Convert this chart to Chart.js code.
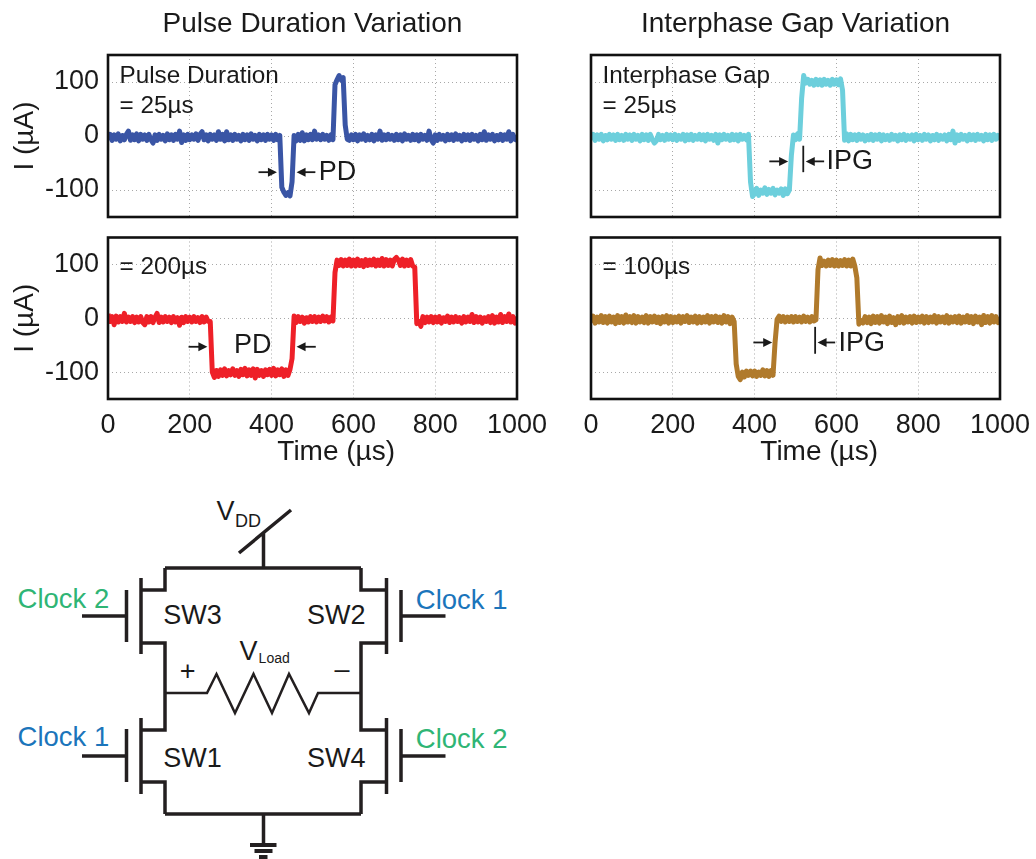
<!DOCTYPE html>
<html>
<head>
<meta charset="utf-8">
<title>Pulse Duration and Interphase Gap Variation</title>
<script src="https://cdn.jsdelivr.net/npm/chart.js@4"></script>
<style>
  html, body { margin: 0; padding: 0; background: #fff; }
  body { width: 1036px; height: 859px; position: relative; overflow: hidden; }
  canvas { position: absolute; }
  svg { position: absolute; left: 0; top: 0; }
  svg text { font-family: "Liberation Sans", Arial, sans-serif; fill: #1a1a1a; }
  svg .wire { fill: none; stroke: #231f20; stroke-width: 3.5; }
  svg .thin { fill: none; stroke: #231f20; stroke-width: 2.5; }
</style>
</head>
<body>
<svg width="1036" height="859" viewBox="0 0 1036 859">
  <!-- supply, rails -->
  <path class="wire" d="M239 553 L291 510 M263.5 533 V568 M165 568 H361 M165 814 H361 M263.5 814 V845"/>
  <!-- left leg -->
  <path class="wire" d="M165 568 V590 H141 M141 578 V654 M141 643 H165 V730 H141 M141 718 V794 M141 782 H165 V814"/>
  <!-- right leg -->
  <path class="wire" d="M361 568 V590 H386.5 M386.5 578 V654 M386.5 643 H361 V730 H386.5 M386.5 718 V794 M386.5 782 H361 V814"/>
  <!-- gates -->
  <path class="wire" d="M126.5 590 V642 M82 616 H126.5 M126.5 729 V782 M82 756 H126.5"/>
  <path class="wire" d="M401 590 V642 M401 616 H445.5 M401 729 V782 M401 756 H445.5"/>
  <!-- load -->
  <path class="thin" d="M165 693 H207 L216.5 674 L235 713 L253.5 674 L272 713 L289 674 L309 713 L318 693 H361"/>
  <!-- ground -->
  <path class="wire" style="stroke-width:4" d="M250 845 H276.5 M254.5 851 H272.5 M259 857 H267.5"/>
  <text x="216.4" y="520" font-size="27">V</text>
  <text x="235" y="526.7" font-size="18">DD</text>
  <text x="239.4" y="660" font-size="27">V</text>
  <text x="258.6" y="663.3" font-size="14">Load</text>
  <text x="187.6" y="680" font-size="27" text-anchor="middle">+</text>
  <text x="342" y="677.5" font-size="27" text-anchor="middle">–</text>
  <text x="163.3" y="624" font-size="27">SW3</text>
  <text x="307" y="624" font-size="27">SW2</text>
  <text x="163.3" y="767.3" font-size="27">SW1</text>
  <text x="307" y="767.3" font-size="27">SW4</text>
  <text x="17.6" y="608.3" font-size="27.5" style="fill:#2fb575">Clock 2</text>
  <text x="415.8" y="609.3" font-size="27.5" style="fill:#1b75bb">Clock 1</text>
  <text x="17.6" y="746" font-size="27.5" style="fill:#1b75bb">Clock 1</text>
  <text x="415.8" y="748" font-size="27.5" style="fill:#2fb575">Clock 2</text>
</svg>
<canvas id="pdShort"></canvas>
<canvas id="ipgShort"></canvas>
<canvas id="pdLong"></canvas>
<canvas id="ipgLong"></canvas>
<script>
var timeTicks = [0, 200, 400, 600, 800, 1000];
var currentTicks = [-100, 0, 100];

// scope sample times (us), shared by all four traces
var sampleTime = [
  0,5,10,15,20,25,30,35,40,45,50,55,60,65,70,75,80,85,90,95,
  100,105,110,115,120,125,130,135,140,145,150,155,160,165,170,175,180,185,190,195,
  200,205,210,215,220,225,230,235,240,245,250,255,260,265,270,275,280,285,290,295,
  300,305,310,315,320,325,330,335,340,345,350,355,360,365,370,375,380,385,390,395,
  400,405,410,415,420,425,430,435,440,445,450,455,460,465,470,475,480,485,490,495,
  500,505,510,515,520,525,530,535,540,545,550,555,560,565,570,575,580,585,590,595,
  600,605,610,615,620,625,630,635,640,645,650,655,660,665,670,675,680,685,690,695,
  700,705,710,715,720,725,730,735,740,745,750,755,760,765,770,775,780,785,790,795,
  800,805,810,815,820,825,830,835,840,845,850,855,860,865,870,875,880,885,890,895,
  900,905,910,915,920,925,930,935,940,945,950,955,960,965,970,975,980,985,990,995,
  1000];

// pulse duration = 25us (blue)
var pdShortCurrent = [
  -7,3,-8,2,-6,4,-9,1,-7,3,9,-8,2,-7,4,-9,3,-6,2,-8,
  3,-7,-13,2,-8,3,-6,1,-9,4,-7,2,-8,3,-6,9,-12,2,-8,3,
  -7,2,-6,4,-8,3,8,-7,2,-9,3,-6,2,-8,8,-6,3,-9,8,-7,
  2,-8,3,-6,1,-9,3,-7,2,-8,4,-6,1,-9,3,-7,2,-8,3,-6,
  2,-8,3,-7,1,-95,-104,-110,-105,-111,-85,1,-9,3,-8,6,-9,2,-7,3,
  -7,9,-6,2,-7,3,-6,1,-8,2,-7,95,104,112,104,108,20,-6,-8,2,
  -7,3,-9,2,-6,4,-8,1,-7,3,-9,2,-6,9,-8,2,-7,3,-6,1,
  -8,3,-7,2,-9,4,-6,1,-8,3,-7,2,-9,3,-6,1,-8,9,-7,-13,
  2,-8,3,-6,1,-9,3,-7,2,-8,4,-6,1,-9,3,-7,2,-8,3,-6,
  1,-9,3,-7,8,-8,2,-6,3,-9,1,-7,3,-8,2,-6,8,-9,3,-6,
  -8];

// interphase gap = 25us (cyan)
var ipgShortCurrent = [
  -7,3,-8,2,-6,3,-9,1,-7,3,-6,2,-8,3,-7,1,-8,3,-6,2,
  -8,3,-6,1,-9,3,-7,2,-8,3,-6,-13,-9,3,-7,1,-8,3,-6,2,
  -7,3,-8,1,-6,3,-9,2,-7,3,-8,1,-6,3,-7,2,-9,3,-6,1,
  -8,3,-13,2,-7,3,-6,1,-8,3,-7,2,-9,3,-6,1,-7,3,-85,-112,
  -107,-97,-110,-100,-106,-96,-108,-99,-106,-97,-109,-100,-106,-98,-110,-98,-107,-100,-35,2,
  -7,4,-6,70,112,98,105,96,103,94,105,95,104,94,105,96,103,94,105,96,
  104,95,106,85,-8,4,-9,3,-7,2,-8,3,-6,2,-9,1,-7,3,-8,2,
  -6,3,-9,2,-7,1,-8,3,-6,1,-9,2,-7,3,-8,1,-6,2,-9,3,
  -7,1,-8,3,-6,2,-9,1,-7,3,-8,1,-6,2,-9,3,-7,9,-13,2,
  -8,3,-6,1,-9,3,-7,2,-8,3,-6,1,-9,3,-7,2,-8,3,-6,1,
  -7];

// pulse duration = 200us (red)
var pdLongCurrent = [
  8,-6,3,-12,4,-7,3,-6,9,-7,2,-6,3,-8,2,-7,3,-8,-12,3,
  -7,3,-8,2,9,-8,2,-7,3,-6,2,-8,3,-7,1,-13,2,-8,3,-6,
  2,-7,3,-6,1,-8,3,-7,2,-6,-6,-100,-110,-97,-108,-96,-106,-94,-107,-97,
  -105,-94,-106,-97,-108,-95,-105,-93,-107,-96,-106,-94,-111,-95,-106,-97,-108,-96,-105,-95,
  -106,-93,-107,-96,-105,-94,-108,-96,-106,-95,-75,4,-8,3,-6,2,-9,1,-7,3,
  -6,3,-7,2,-6,4,-5,3,-7,2,-5,85,108,98,109,97,108,98,110,97,
  108,97,110,98,107,96,109,98,108,99,110,97,108,98,111,97,109,98,108,97,
  109,113,108,98,110,97,108,98,109,97,95,-10,-6,-15,3,-8,2,-7,3,-8,
  2,-7,3,-9,1,-6,4,-8,2,-7,3,-6,1,-9,3,-7,2,-6,7,-8,
  3,-7,2,-9,1,-6,3,-8,5,-9,2,-7,7,-8,3,-6,8,-7,3,-9,
  3];

// interphase gap = 100us (brown)
var ipgLongCurrent = [
  -8,4,-9,2,-7,5,-8,3,-9,4,-7,2,-10,5,-8,3,-9,6,-7,3,
  -8,5,-9,3,-7,2,-8,5,-9,3,-7,4,-8,2,-10,3,-7,5,-9,3,
  -8,2,-7,4,-9,3,-6,5,-8,2,-7,4,-9,3,-8,2,-7,5,-9,3,
  -7,4,-8,2,-9,5,-7,3,-10,2,-6,-85,-108,-114,-100,-109,-98,-106,-98,-107,
  -98,-108,-100,-106,-96,-107,-97,-108,-97,-106,-45,-2,4,-6,3,-7,2,-6,3,-7,
  3,-6,2,-7,4,-6,2,-7,3,-5,-3,90,112,98,106,97,108,98,109,97,
  108,97,107,98,109,97,108,97,110,97,75,-11,-4,-9,3,-8,2,-10,4,-8,
  3,-9,5,-7,2,-10,4,-8,1,-12,3,-8,5,-9,2,-7,3,-9,4,-8,
  2,-7,4,-9,3,-8,2,-7,5,-9,3,-7,2,-8,5,-9,2,-7,3,-8,
  4,-9,2,-7,5,-8,3,-10,4,-7,2,-12,5,-8,3,-9,5,-7,3,-8,
  2];

var FONT = '"Liberation Sans", Arial, sans-serif';

// draws the box around the plot plus the notes and arrows, in data units
var panelExtras = {
  id: 'panelExtras',
  afterDraw: function(chart, args, opts) {
    var ctx = chart.ctx, area = chart.chartArea;
    var x = chart.scales.x, y = chart.scales.y;
    ctx.save();
    ctx.fillStyle = '#1a1a1a';
    ctx.strokeStyle = '#1a1a1a';
    ctx.lineWidth = 1.8;
    (opts.arrows || []).forEach(function(a) {
      var x0 = x.getPixelForValue(a[0]), x1 = x.getPixelForValue(a[1]), py = y.getPixelForValue(a[2]);
      var dir = x1 > x0 ? 1 : -1;
      ctx.beginPath(); ctx.moveTo(x0, py); ctx.lineTo(x1 - dir * 4, py); ctx.stroke();
      ctx.beginPath(); ctx.moveTo(x1, py); ctx.lineTo(x1 - dir * 9, py - 4.5); ctx.lineTo(x1 - dir * 9, py + 4.5); ctx.closePath(); ctx.fill();
    });
    (opts.bars || []).forEach(function(b) {
      var px = x.getPixelForValue(b[0]);
      ctx.beginPath(); ctx.moveTo(px, y.getPixelForValue(b[1])); ctx.lineTo(px, y.getPixelForValue(b[2])); ctx.stroke();
    });
    ctx.textBaseline = 'alphabetic';
    (opts.notes || []).forEach(function(n) {
      ctx.font = n[3] + 'px ' + FONT;
      ctx.fillText(n[0], x.getPixelForValue(n[1]), y.getPixelForValue(n[2]));
    });
    ctx.strokeStyle = '#111';
    ctx.lineWidth = 2.6;
    ctx.strokeRect(area.left, area.top, area.right - area.left, area.bottom - area.top);
    ctx.restore();
  }
};

function drawPanel(id, box, currents, color, extras) {
  var canvas = document.getElementById(id);
  canvas.width = box.w; canvas.height = box.h;
  canvas.style.left = box.x + 'px'; canvas.style.top = box.y + 'px';
  return new Chart(canvas, {
    type: 'line',
    data: {
      datasets: [{
        data: sampleTime.map(function(t, i) { return { x: t, y: currents[i] }; }),
        borderColor: color,
        borderWidth: 5,
        borderJoinStyle: 'round',
        pointRadius: 0,
        tension: 0
      }]
    },
    options: {
      responsive: false,
      animation: false,
      layout: { padding: { top: box.padTop, right: box.padRight, left: 0, bottom: 0 } },
      plugins: {
        legend: { display: false },
        tooltip: { enabled: false },
        title: {
          display: !!box.title,
          text: box.title,
          fullSize: false,
          color: '#1a1a1a',
          font: { family: FONT, size: 28, weight: 'normal' },
          padding: { top: 7, bottom: 14.4 }
        },
        panelExtras: extras
      },
      scales: {
        x: {
          type: 'linear',
          min: 0,
          max: 1000,
          afterBuildTicks: function(s) { s.ticks = timeTicks.map(function(v) { return { value: v }; }); },
          afterFit: function(s) { s.height = box.axisH; s.paddingLeft = 0; s.paddingRight = 0; },
          grid: { color: '#a8a8a8', lineWidth: 1, drawTicks: false },
          border: { display: false, dash: [1, 3] },
          ticks: {
            display: box.showTime,
            color: '#1a1a1a',
            padding: 10,
            maxRotation: 0,
            font: { family: FONT, size: 27 },
            callback: function(v) { return String(v); }
          }
        },
        y: {
          type: 'linear',
          min: -150,
          max: 150,
          afterBuildTicks: function(s) { s.ticks = currentTicks.map(function(v) { return { value: v }; }); },
          afterFit: function(s) { s.width = box.axisW; s.paddingTop = 0; s.paddingBottom = 0; },
          grid: { color: '#a8a8a8', lineWidth: 1, drawTicks: false },
          border: { display: false, dash: [1, 3] },
          ticks: { display: box.showCurrent, color: '#1a1a1a', padding: 9, font: { family: FONT, size: 27 } },
          title: { display: box.showCurrent, text: 'I (µA)', color: '#1a1a1a', padding: { top: 8, bottom: 0 }, font: { family: FONT, size: 28 } }
        }
      }
    },
    plugins: [panelExtras]
  });
}

drawPanel('pdShort',
  { x: 0, y: 0, w: 560, h: 235, padTop: 0, padRight: 43, axisW: 108, axisH: 18, showTime: false, showCurrent: true, title: 'Pulse Duration Variation' },
  pdShortCurrent, '#3a55a5',
  { notes: [['Pulse Duration', 28, 98, 24.3], ['= 25µs', 28, 42, 24.3], ['PD', 515, -82, 27]],
    arrows: [[368, 413, -67], [507, 461, -67]] });

drawPanel('ipgShort',
  { x: 560, y: 0, w: 476, h: 235, padTop: 0, padRight: 36, axisW: 31, axisH: 18, showTime: false, showCurrent: false, title: 'Interphase Gap Variation' },
  ipgShortCurrent, '#6dcfdc',
  { notes: [['Interphase Gap', 28, 98, 24.3], ['= 25µs', 28, 42, 24.3], ['IPG', 576, -62, 27]],
    arrows: [[436, 482, -47], [570, 525, -47]],
    bars: [[519, -18, -67]] });

// the axis title sits right of centre in the original, so it goes in with the notes
drawPanel('pdLong',
  { x: 0, y: 225, w: 560, h: 250, padTop: 12.5, padRight: 43, axisW: 108, axisH: 76, showTime: true, showCurrent: true },
  pdLongCurrent, '#ee2028',
  { notes: [['= 200µs', 28, 82, 24.3], ['PD', 308, -65, 27], ['Time (µs)', 414, -264, 28]],
    arrows: [[197, 243, -53], [508, 461, -53]] });

drawPanel('ipgLong',
  { x: 560, y: 225, w: 476, h: 250, padTop: 12.5, padRight: 36, axisW: 31, axisH: 76, showTime: true, showCurrent: false },
  ipgLongCurrent, '#b07a2c',
  { notes: [['= 100µs', 28, 82, 24.3], ['IPG', 605, -60, 27], ['Time (µs)', 414, -264, 28]],
    arrows: [[397, 443, -45], [597, 554, -45]],
    bars: [[548, -16, -66]] });
</script>
</body>
</html>
